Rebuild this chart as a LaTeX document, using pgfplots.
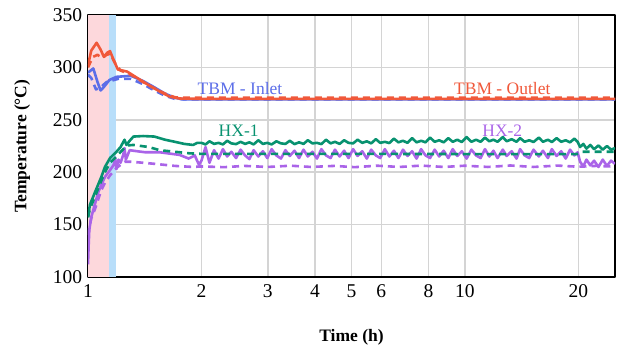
\documentclass[border=0pt]{standalone}
\usepackage{fontspec}
\setmainfont{Liberation Serif}
\usepackage{pgfplots}
\pgfplotsset{compat=1.18}
\definecolor{cred}{RGB}{240,88,58}
\definecolor{cblue}{RGB}{92,110,232}
\definecolor{cgreen}{RGB}{8,146,112}
\definecolor{cpurple}{RGB}{170,100,232}
\definecolor{cpink}{RGB}{253,216,220}
\definecolor{clblue}{RGB}{184,222,250}
\definecolor{cgrid}{RGB}{212,212,212}
\begin{document}
\fontsize{17}{20}\selectfont
\begin{tikzpicture}
\begin{axis}[name=ax, scale only axis, width=527pt, height=262pt,
  xmode=log, xmin=1, xmax=25, ymin=100, ymax=350,
  xtick={1,2,3,4,5,6,8,10,20}, xticklabels={1,2,3,4,5,6,8,10,20},
  minor xtick={}, ytick={100,150,...,350},
  grid=major, major grid style={draw=cgrid, line width=1.6pt},
  axis line style={line width=2pt}, major tick length=0pt,
  tick label style={font=\fontsize{19.5}{22}\selectfont},
  xticklabel style={yshift=-2pt},
  /pgf/number format/assume math mode=true,
  xlabel={\textbf{Time (h)}}, ylabel={\textbf{Temperature (°C)}},
  label style={font=\fontsize{17.5}{20}\selectfont},
  xlabel style={at={(axis description cs:0.5,-0.229)}, anchor=center},
  ylabel style={at={(axis description cs:-0.125,0.5)}, anchor=center},
  line join=round,
]
\addplot[fill=cpink, draw=none, forget plot] coordinates {(1,100) (1.137,100) (1.137,350) (1,350)} -- cycle;
\addplot[fill=clblue, draw=none, forget plot] coordinates {(1.137,100) (1.19,100) (1.19,350) (1.137,350)} -- cycle;

% HX-2 dashed
\addplot[cpurple, line width=2.6pt, dash pattern=on 7pt off 5pt] coordinates {
(1.0,140)(1.02,156)(1.044,165)(1.085,183)(1.11,190)(1.144,197)(1.19,204)(1.25,210)(1.3,210)(1.4,209)(1.5,208)(1.7,206)(1.9,205)
(2.0,205.5)(2.3,204.8)(2.6,206)(3.0,205)(3.45,206.2)(3.9,205)(4.5,206)(5.1,204.8)(5.85,206.2)(6.7,205)(7.65,206.3)(8.8,205)(10,206.2)(11.5,205)(13.2,206.4)(15.2,205)(17.6,206.3)(20,205.2)(22.3,206)(25,205.3)};
% HX-2 solid
\addplot[cpurple, line width=2.6pt] coordinates {
(1.0,112)(1.004,130)(1.008,145)(1.02,157)(1.044,170)(1.065,181)(1.085,188)(1.109,195.5)(1.144,202)(1.17,207)(1.18,214)(1.19,203)(1.205,212)(1.22,209)(1.24,216.5)(1.25,223)(1.26,212)(1.29,221)(1.35,220)(1.42,219)(1.55,219)(1.75,216.5)(1.85,213)(1.92,216)(1.97,207)
(2.00,211)(2.05,224)(2.10,209)(2.16,221)(2.22,213)(2.28,222)(2.34,215)(2.40,219.5)(2.47,213.5)(2.54,221.5)(2.61,216)(2.68,212.5)(2.75,221)(2.83,215)(2.91,220)(2.99,213.5)(3.07,222)(3.16,216)(3.25,213)(3.34,221)(3.43,215.5)(3.53,220.5)(3.63,213.5)(3.73,221.5)(3.83,215)(3.94,219.5)(4.05,213)(4.16,222)(4.28,216)(4.40,213.5)(4.52,221.5)(4.65,215)(4.78,220.5)(4.91,213.5)(5.05,222)(5.19,215.5)(5.34,220)(5.49,213)(5.64,221.5)(5.80,216)(5.96,213.5)(6.13,222)(6.30,215)(6.48,220.5)(6.66,213.5)(6.85,221.5)(7.04,215.5)(7.24,220)(7.44,213)(7.65,222)(7.86,216)(8.08,213.5)(8.31,221.5)(8.54,215)(8.78,220.5)(9.03,213.5)(9.28,222)(9.54,215.5)(9.81,220)(10.1,213)(10.4,221.5)(10.7,216)(11.0,213.5)(11.3,222)(11.6,215)(11.9,220.5)(12.2,213.5)(12.6,221.5)(12.9,215.5)(13.3,220)(13.7,213)(14.0,222)(14.4,216)(14.8,213.5)(15.2,221.5)(15.7,215)(16.1,220.5)(16.6,213.5)(17.0,222)(17.5,215.5)(18.0,220)(18.5,213)(19.0,221.5)(19.5,216)(19.9,219)(20.2,210)(20.6,205.5)(21.0,212)(21.5,206.5)(22.0,211)(22.6,205)(23.2,212)(23.8,206)(24.4,211)(25.0,208)};
% HX-1 dashed
\addplot[cgreen, line width=2.6pt, dash pattern=on 7pt off 5pt] coordinates {
(1.0,157)(1.012,165)(1.044,177)(1.085,192)(1.109,200)(1.144,209)(1.19,215)(1.24,222)(1.27,225.5)(1.32,226)(1.45,224)(1.55,221)(1.7,219.5)(1.86,218)(2,217.5)(5,217.5)(10,217.3)(19.8,217.3)(20.5,219.5)(25,219.5)};
% HX-1 solid
\addplot[cgreen, line width=2.6pt] coordinates {
(1.0,157)(1.012,169)(1.044,181)(1.085,195.5)(1.109,205)(1.144,213.5)(1.19,219.5)(1.22,224)(1.25,231)(1.265,226)(1.29,230)(1.32,234)(1.4,234.5)(1.5,234)(1.6,231)(1.7,229)(1.8,227)(1.9,226)(1.95,228)
(2.00,228)(2.05,226.5)(2.10,229.5)(2.16,227)(2.22,228)(2.28,226.5)(2.34,230)(2.40,227.5)(2.47,226.8)(2.54,229)(2.61,227)(2.68,228.5)(2.75,226.5)(2.83,230.5)(2.91,227)(2.99,228)(3.07,226.5)(3.16,229.5)(3.25,227.5)(3.34,227)(3.43,230)(3.53,226.8)(3.63,228.5)(3.73,227)(3.83,230.5)(3.94,227.5)(4.05,228)(4.16,226.8)(4.28,231)(4.40,227.5)(4.52,229)(4.65,227)(4.78,230.5)(4.91,228)(5.05,227.5)(5.19,231)(5.34,228)(5.49,229.5)(5.64,227.5)(5.80,231.5)(5.96,228)(6.13,229)(6.30,227.8)(6.48,232)(6.66,228.5)(6.85,230)(7.04,228)(7.24,232.5)(7.44,228.5)(7.65,230)(7.86,228.5)(8.08,233)(8.31,229)(8.54,230.5)(8.78,228.5)(9.03,232.5)(9.28,229)(9.54,231)(9.81,228.8)(10.1,233.5)(10.4,229)(10.7,231)(11.0,229)(11.3,233)(11.6,229.5)(11.9,231)(12.2,229)(12.6,233.5)(12.9,229.5)(13.3,231.5)(13.7,229)(14.0,232.5)(14.4,229)(14.8,230.5)(15.2,228.8)(15.7,233)(16.1,229)(16.6,231)(17.0,228.8)(17.5,232.5)(18.0,229)(18.5,230.5)(19.0,228.5)(19.5,232)(19.9,229)(20.2,224)(20.6,227)(21.0,222.5)(21.5,226)(22.0,222)(22.6,225.5)(23.2,221.5)(23.8,225)(24.4,221.5)(25.0,223)};
% TBM inlet dashed
\addplot[cblue, line width=2.6pt, dash pattern=on 7pt off 5pt] coordinates {
(1.0,293)(1.02,290)(1.05,279)(1.08,281)(1.12,286)(1.2,289)(1.3,289)(1.4,284)(1.5,278)(1.6,273)(1.7,270)(1.8,269.5)(25,269.5)};
% TBM inlet solid
\addplot[cblue, line width=2.6pt] coordinates {
(1.0,295)(1.033,299)(1.06,286)(1.08,278)(1.10,281)(1.14,288)(1.19,291)(1.3,292)(1.4,287)(1.5,281)(1.6,275)(1.7,271)(1.8,269.5)(25,269.5)};
% TBM outlet dashed
\addplot[cred, line width=2.6pt, dash pattern=on 7pt off 5pt] coordinates {
(1.0,300)(1.03,310)(1.06,312)(1.09,309)(1.12,312)(1.145,313)(1.18,304)(1.22,297)(1.3,293)(1.4,286)(1.5,280)(1.6,275)(1.7,271.5)(1.8,271)(25,271)};
% TBM outlet solid
\addplot[cred, line width=2.6pt] coordinates {
(1.0,302)(1.02,316)(1.054,323.5)(1.08,317)(1.102,310)(1.125,314)(1.144,315.5)(1.17,307)(1.20,298)(1.27,296)(1.35,290)(1.45,283)(1.55,277)(1.65,272)(1.75,270.3)(2,270)(25,270)};

\node[text=cblue, font=\fontsize{17.5}{20}\selectfont] at (axis cs:2.53,280) {TBM - Inlet};
\node[text=cred, font=\fontsize{17.5}{20}\selectfont] at (axis cs:12.56,280) {TBM - Outlet};
\node[text=cgreen, font=\fontsize{17.5}{20}\selectfont] at (axis cs:2.51,240) {HX-1};
\node[text=cpurple, font=\fontsize{17.5}{20}\selectfont] at (axis cs:12.56,240) {HX-2};
\end{axis}
\pgfresetboundingbox
\path (ax.south west) ++(-88pt,-73pt) rectangle ++(619pt,350pt);
\end{tikzpicture}
\end{document}
